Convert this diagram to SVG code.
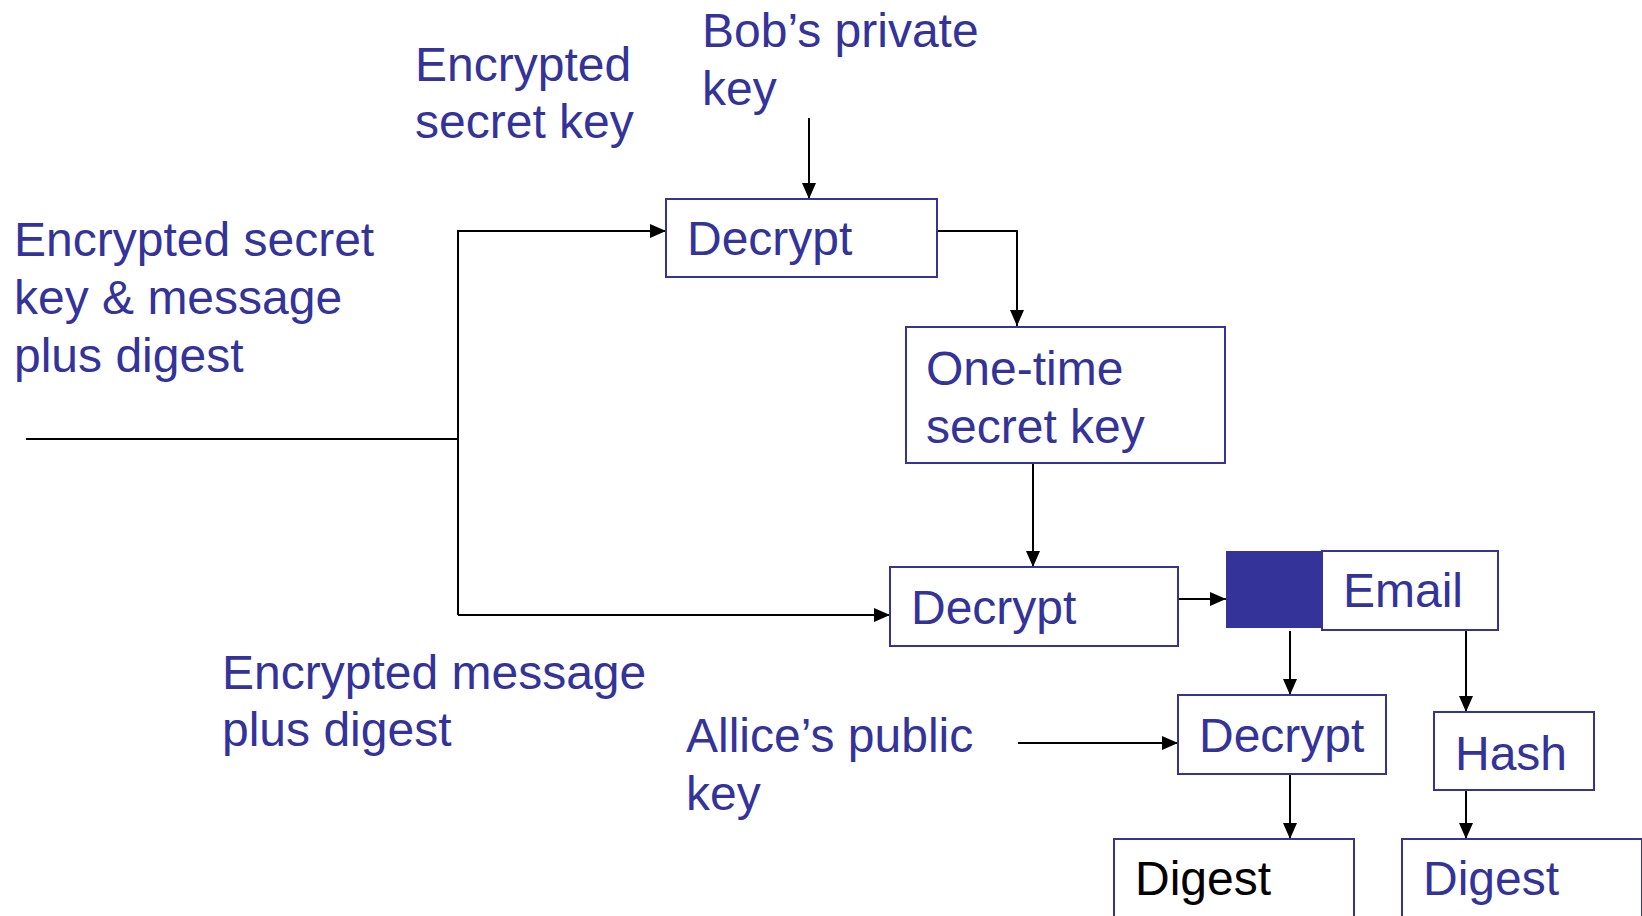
<svg xmlns="http://www.w3.org/2000/svg" width="1642" height="916" viewBox="0 0 1642 916">
  <style>
    .lbl { font-family: "Liberation Sans", Arial, sans-serif; font-size: 48px; fill: #333399; }
    .blk { fill: #000000; }
    .box { fill: #ffffff; stroke: #333399; stroke-width: 2; }
    .wire { fill: none; stroke: #000000; stroke-width: 2; }
  </style>
  <defs>
    <marker id="arrow" viewBox="0 0 10 10" refX="10" refY="5" markerWidth="7" markerHeight="7" markerUnits="userSpaceOnUse" orient="auto">
      <path d="M0,0 L10,5 L0,10 z" fill="#000000"/>
    </marker>
    <marker id="arr" viewBox="0 0 16 14" refX="16" refY="7" markerWidth="16" markerHeight="14" markerUnits="userSpaceOnUse" orient="auto">
      <path d="M0,0 L16,7 L0,14 z" fill="#000000"/>
    </marker>
  </defs>

  <rect x="0" y="0" width="1642" height="916" fill="#ffffff"/>

  <!-- free-standing labels -->
  <g id="label-encrypted-secret-key">
    <text class="lbl" x="415" y="81">Encrypted</text>
    <text class="lbl" x="415" y="138">secret key</text>
  </g>
  <g id="label-bobs-private-key">
    <text class="lbl" x="702" y="47">Bob’s private</text>
    <text class="lbl" x="702" y="105">key</text>
  </g>
  <g id="label-input">
    <text class="lbl" x="14" y="256">Encrypted secret</text>
    <text class="lbl" x="14" y="314">key &amp; message</text>
    <text class="lbl" x="14" y="372">plus digest</text>
  </g>
  <g id="label-encrypted-message">
    <text class="lbl" x="222" y="689">Encrypted message</text>
    <text class="lbl" x="222" y="746">plus digest</text>
  </g>
  <g id="label-alices-public-key">
    <text class="lbl" x="686" y="752">Allice’s public</text>
    <text class="lbl" x="686" y="810">key</text>
  </g>

  <!-- connectors -->
  <g id="connectors">
    <path class="wire" d="M26,439 H458"/>
    <path class="wire" d="M458,615 V231 H666" marker-end="url(#arr)"/>
    <path class="wire" d="M458,615 H890" marker-end="url(#arr)"/>
    <path class="wire" d="M809,118 V199" marker-end="url(#arr)"/>
    <path class="wire" d="M937,231 H1017 V326" marker-end="url(#arr)"/>
    <path class="wire" d="M1033,456 V567" marker-end="url(#arr)"/>
    <path class="wire" d="M1178,599 H1226" marker-end="url(#arr)"/>
    <path class="wire" d="M1290,631 V695" marker-end="url(#arr)"/>
    <path class="wire" d="M1466,631 V712" marker-end="url(#arr)"/>
    <path class="wire" d="M1018,743 H1178" marker-end="url(#arr)"/>
    <path class="wire" d="M1290,774 V839" marker-end="url(#arr)"/>
    <path class="wire" d="M1466,790 V839" marker-end="url(#arr)"/>
  </g>

  <!-- nodes -->
  <g id="decrypt-secret-key">
    <rect class="box" x="666" y="199" width="271" height="78"/>
    <text class="lbl" x="687" y="255">Decrypt</text>
  </g>
  <g id="one-time-secret-key">
    <rect class="box" x="906" y="327" width="319" height="136"/>
    <text class="lbl" x="926" y="385">One-time</text>
    <text class="lbl" x="926" y="443">secret key</text>
  </g>
  <g id="decrypt-message">
    <rect class="box" x="890" y="567" width="288" height="79"/>
    <text class="lbl" x="911" y="624">Decrypt</text>
  </g>
  <g id="signed-digest-block">
    <rect x="1226" y="551" width="96" height="77" fill="#333399"/>
  </g>
  <g id="email">
    <rect class="box" x="1322" y="551" width="176" height="79"/>
    <text class="lbl" x="1343" y="607">Email</text>
  </g>
  <g id="decrypt-digest">
    <rect class="box" x="1178" y="695" width="208" height="79"/>
    <text class="lbl" x="1199" y="752">Decrypt</text>
  </g>
  <g id="hash">
    <rect class="box" x="1434" y="712" width="160" height="78"/>
    <text class="lbl" x="1455" y="770">Hash</text>
  </g>
  <g id="digest-received">
    <rect class="box" x="1114" y="839" width="240" height="90"/>
    <text class="lbl blk" x="1135" y="895">Digest</text>
  </g>
  <g id="digest-computed">
    <rect class="box" x="1402" y="839" width="240" height="90"/>
    <text class="lbl" x="1423" y="895">Digest</text>
  </g>
</svg>
